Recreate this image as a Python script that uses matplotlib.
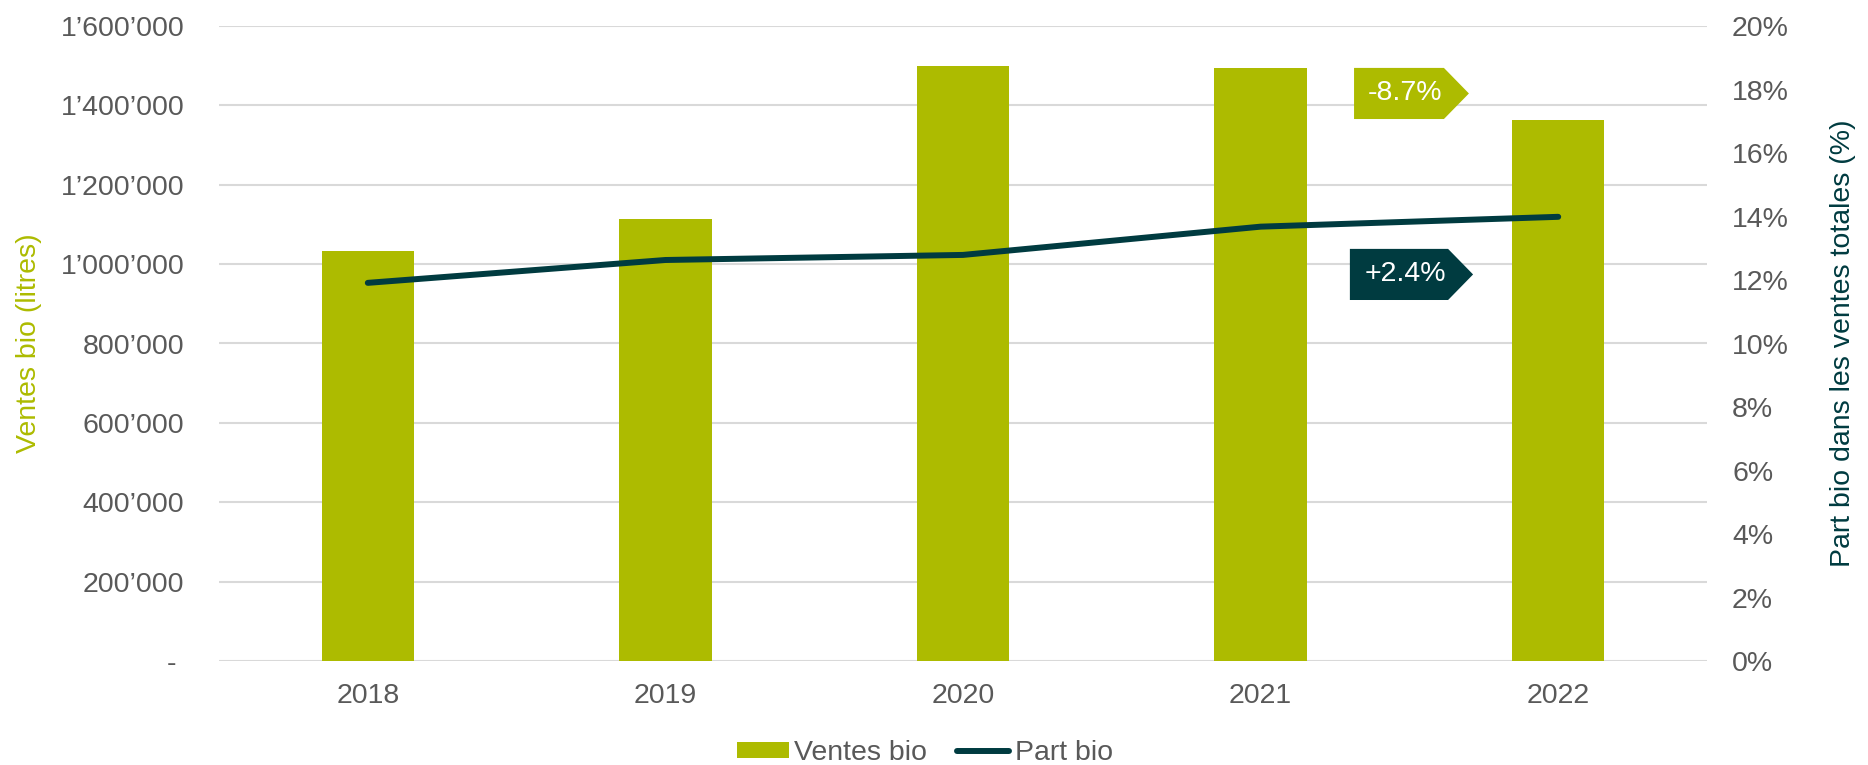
import matplotlib.pyplot as plt
from matplotlib.patches import Polygon
from matplotlib.ticker import FuncFormatter

plt.rcParams['font.family'] = ['Liberation Sans', 'DejaVu Sans']

years = ['2018', '2019', '2020', '2021', '2022']
ventes = [1033000, 1114000, 1500000, 1493000, 1363000]
part = [11.91, 12.63, 12.79, 13.68, 13.99]
delta_ventes = '-8.7%'
delta_part = '+2.4%'

olive = '#ADBB00'
teal = '#003B40'
grey = '#595959'
fs = 20.5

fig = plt.figure(figsize=(18.68, 7.65), dpi=100)
ax = fig.add_axes([219/1868, 1-661/765, (1707-219)/1868, (661-26)/765])
ax2 = ax.twinx()

x = list(range(len(years)))
ax.bar(x, ventes, width=0.31, color=olive, zorder=2, label='Ventes bio')
ax2.plot(x, part, color=teal, lw=4.3, solid_capstyle='round', zorder=3, label='Part bio')

ax.set_xlim(-0.5, 4.5)
ax.set_ylim(0, 1600000)
ax.set_yticks(range(0, 1600001, 200000))
def fmt(v, pos):
    if v == 0:
        return '- '
    return f'{int(v):,}'.replace(',', '\u2019')
ax.yaxis.set_major_formatter(FuncFormatter(fmt))
ax2.set_ylim(0, 20)
ax2.set_yticks(range(0, 21, 2))
ax2.set_yticklabels([f'{v}%' for v in range(0, 21, 2)])

ax.set_xticks(x)
ax.set_xticklabels(years)
ax.grid(axis='y', color='#D9D9D9', lw=1.5, zorder=0)
ax.set_axisbelow(True)
for a in (ax, ax2):
    for s in a.spines.values():
        s.set_visible(False)
    a.tick_params(length=0, labelsize=fs, labelcolor=grey)
ax.tick_params(axis='y', pad=25)
ax.tick_params(axis='x', pad=15.5)
ax2.tick_params(axis='y', pad=18)

ax.set_ylabel('Ventes bio (litres)', color=olive, fontsize=fs)
ax.yaxis.set_label_coords(-0.119, 0.5)
ax2.set_ylabel('Part bio dans les ventes totales (%)', color=teal, fontsize=fs)
ax2.yaxis.set_label_coords(1.0827, 0.5)

# callouts
def callout(x0, x1, xt, y0, y1, txt, col):
    ym = (y0 + y1) / 2
    poly = Polygon([(x0, y0), (x1, y0), (xt, ym), (x1, y1), (x0, y1)],
                   closed=True, facecolor=col, edgecolor='none', zorder=5)
    ax2.add_patch(poly)
    ax2.text((x0 + x1) / 2 + 0.02, ym, txt, color='white', fontsize=fs,
             ha='center', va='center', zorder=6)

callout(3.314, 3.616, 3.70, 17.07, 18.68, delta_ventes, olive)
callout(3.30, 3.63, 3.714, 11.37, 12.98, delta_part, teal)

h1, l1 = ax.get_legend_handles_labels()
h2, l2 = ax2.get_legend_handles_labels()
fig.legend(h1 + h2, l1 + l2, loc='center', bbox_to_anchor=(925/1868, 1-753/765),
           ncol=2, frameon=False, fontsize=fs, labelcolor=grey,
           handlelength=1.82, handleheight=0.53, handletextpad=0.2, columnspacing=1.05,
           borderaxespad=0, borderpad=0)

fig.savefig('out.png', dpi=100)
